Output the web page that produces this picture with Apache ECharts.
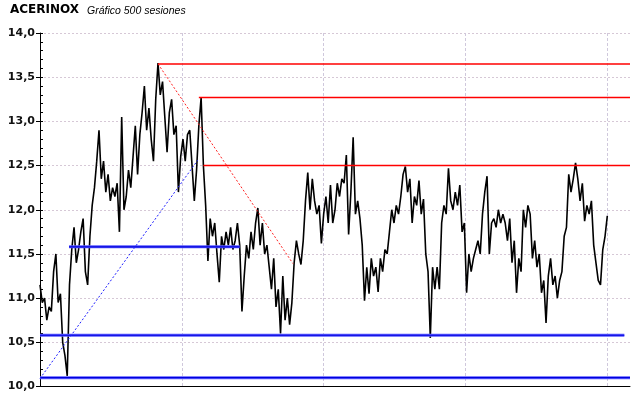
<!DOCTYPE html>
<html>
<head>
<meta charset="utf-8">
<script src="https://cdn.jsdelivr.net/npm/echarts@6/dist/echarts.min.js"></script>
<style>
html,body{margin:0;padding:0;background:#fff;}
#chart{width:640px;height:398px;}
</style>
</head>
<body>
<div id="chart"></div>
<script>
// ---- data ----
const titleText = 'ACERINOX';
const subtitleText = 'Gráfico 500 sesiones';
const sessionStep = 2; // one value every 2 sessions
const price = [
11.15,10.95,11.0,10.75,10.9,10.85,11.3,11.5,10.95,11.05,10.5,10.35,10.12,11.15,11.55,11.8,11.4,11.55,11.75,11.9,11.3,11.15,
11.7,12.05,12.25,12.55,12.9,12.35,12.55,12.2,12.4,12.1,12.25,12.15,12.3,11.75,13.05,12.0,12.15,12.45,12.25,12.6,12.95,12.4,
12.85,13.1,13.4,12.9,13.15,12.8,12.55,13.25,13.66,13.3,13.45,13.05,12.65,13.1,13.25,12.85,12.95,12.2,12.6,12.8,12.55,12.85,
12.9,12.5,12.1,12.45,12.95,13.27,12.5,12.05,11.42,11.9,11.7,11.85,11.5,11.18,11.7,11.55,11.75,11.6,11.8,11.55,11.65,11.85,
11.6,10.85,11.25,11.6,11.45,11.75,11.55,11.85,12.02,11.6,11.85,11.5,11.6,11.35,11.1,11.45,10.9,11.1,10.6,11.25,10.75,11.0,
10.7,10.95,11.4,11.65,11.5,11.38,11.65,12.1,12.42,12.0,12.35,12.1,11.95,12.05,11.62,11.95,12.15,11.85,12.28,11.85,12.0,12.3,
12.15,12.35,12.3,12.62,11.72,12.2,12.82,11.95,12.1,11.9,11.6,10.97,11.35,11.05,11.45,11.25,11.35,11.07,11.45,11.3,11.55,11.5,
11.75,12.0,11.85,12.05,11.95,12.15,12.4,12.49,12.2,12.35,11.85,12.15,12.05,12.33,11.95,12.12,11.5,11.3,10.55,11.35,11.1,11.35,
11.1,11.85,12.05,11.95,12.47,12.1,12.0,12.2,12.05,12.28,11.75,11.85,11.06,11.5,11.3,11.45,11.55,11.65,11.5,11.95,12.2,12.38,
11.5,11.85,11.9,11.8,12.0,11.85,11.95,11.85,11.65,11.9,11.4,11.65,11.06,11.45,11.3,12.0,11.8,12.05,11.95,11.45,11.65,11.35,
11.5,11.06,11.2,10.72,11.25,11.45,11.15,11.25,11.0,11.2,11.3,11.7,11.8,12.4,12.2,12.35,12.53,12.35,12.1,12.3,11.87,12.05,11.95,12.1,11.6,11.4,11.2,11.15,11.55,11.7,11.93
];
// resistance lines (red): level, start session
const redLevels = [13.65, 13.27, 12.50];
const redStarts = [104, 140, 144];
// support lines (blue): level, start session, end session
const blueLevels = [11.58, 10.58, 10.10];
const blueStarts = [25.6, 0, 0];
const blueEnds = [176, 515, 520];
// trend lines: [session, price]
const redTrend = [[104, 13.65], [223, 11.39]];
const blueTrend = [[0, 10.09], [139, 12.56]];
const xMax = 520;
const yMin = 10, yMax = 14;

// ---- chart ----
const chart = echarts.init(document.getElementById('chart'), null, {renderer: 'canvas'});
const priceData = price.map((v, i) => [i * sessionStep, v]);

const series = [];
series.push({
  type: 'line', data: priceData, symbol: 'none', z: 2,
  lineStyle: {color: '#000', width: 1.6}
});
redLevels.forEach((lv, k) => {
  series.push({
    type: 'line', symbol: 'none', z: 3,
    data: [[redStarts[k], lv], [xMax, lv]],
    lineStyle: {color: '#ff0000', width: 1.5}
  });
});
blueLevels.forEach((lv, k) => {
  series.push({
    type: 'line', symbol: 'none', z: 3,
    data: [[blueStarts[k], lv], [blueEnds[k], lv]],
    lineStyle: {color: '#5a5aff', width: 3}
  });
  series.push({
    type: 'line', symbol: 'none', z: 4,
    data: [[blueStarts[k], lv], [blueEnds[k], lv]],
    lineStyle: {color: '#0000dd', width: 1.2}
  });
});
series.push({
  type: 'line', symbol: 'none', z: 4, data: redTrend,
  lineStyle: {color: '#ff2020', width: 1, type: [2, 2]}
});
series.push({
  type: 'line', symbol: 'none', z: 4, data: blueTrend,
  lineStyle: {color: '#2020ff', width: 1, type: [2, 2]}
});

const option = {
  animation: false,
  backgroundColor: '#fff',
  graphic: [
    {type: 'text', left: 10, top: 4, style: {text: titleText, font: 'bold 12px "DejaVu Sans"', fill: '#000'}},
    {type: 'text', left: 87, top: 6, style: {text: subtitleText, font: 'italic 10.5px "Liberation Sans"', fill: '#000'}}
  ],
  grid: {left: 40, top: 33, width: 590, height: 353.5, containLabel: false},
  xAxis: {
    type: 'value', min: 0, max: xMax, interval: 125,
    axisLine: {show: true, lineStyle: {color: '#000', width: 1}},
    axisTick: {show: false},
    axisLabel: {show: false},
    splitLine: {show: true, showMinLine: false, showMaxLine: false,
      lineStyle: {color: '#cfc8dc', type: [3, 2], width: 1}}
  },
  yAxis: [
    {
      type: 'value', min: yMin, max: yMax, interval: 0.5,
      axisLine: {show: true, lineStyle: {color: '#000', width: 1}},
      axisTick: {show: true, inside: false, length: 4, lineStyle: {color: '#000'}},
      axisLabel: {
        show: true, margin: 5, color: '#111',
        fontFamily: 'DejaVu Sans', fontWeight: 'bold', fontSize: 11,
        formatter: v => v.toFixed(1).replace('.', ',')
      },
      splitLine: {show: true, lineStyle: {color: '#d6c8d6', type: [2, 2], width: 1}}
    },
    {
      type: 'value', min: yMin, max: yMax, interval: 0.1, position: 'left',
      axisLine: {show: false},
      axisTick: {show: true, inside: true, length: 3, lineStyle: {color: '#000'}},
      axisLabel: {show: false},
      splitLine: {show: false}
    }
  ],
  series: series
};
chart.setOption(option);
</script>
</body>
</html>
